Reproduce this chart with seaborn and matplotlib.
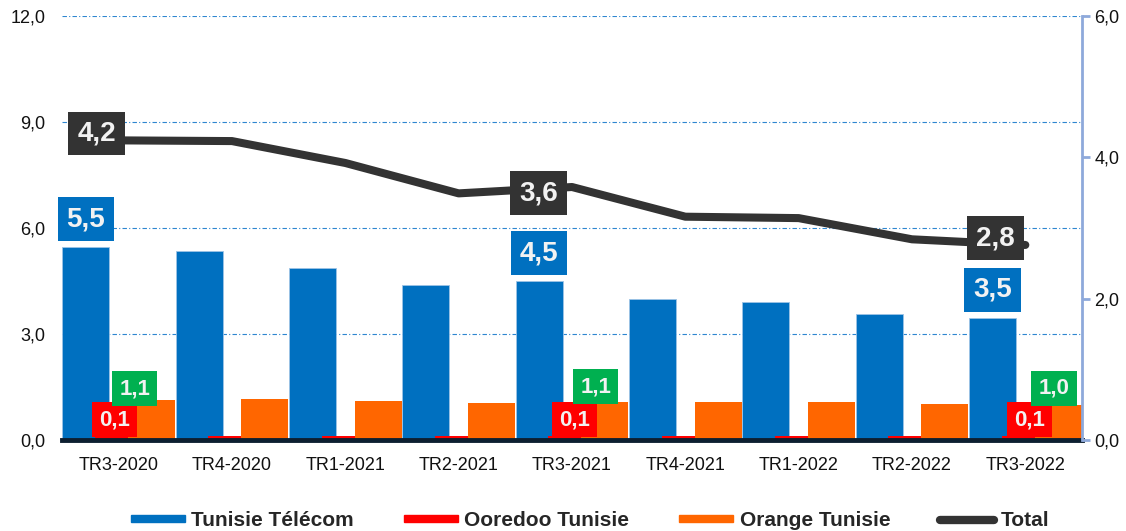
import numpy as np
import pandas as pd
import matplotlib
matplotlib.use("Agg")
import matplotlib.pyplot as plt
from matplotlib.patches import Patch
from matplotlib.lines import Line2D
import seaborn as sns

# ---------------- data ----------------
quarters = ["TR3-2020", "TR4-2020", "TR1-2021", "TR2-2021", "TR3-2021",
            "TR4-2021", "TR1-2022", "TR2-2022", "TR3-2022"]
tunisie_telecom = [5.46, 5.34, 4.87, 4.40, 4.50, 3.98, 3.91, 3.57, 3.46]
ooredoo = [0.12, 0.12, 0.11, 0.11, 0.12, 0.11, 0.12, 0.11, 0.12]
orange = [1.14, 1.17, 1.09, 1.06, 1.08, 1.08, 1.07, 1.01, 0.99]
total = [4.24, 4.23, 3.92, 3.49, 3.58, 3.16, 3.14, 2.84, 2.76]
series_names = ["Tunisie Télécom", "Ooredoo Tunisie", "Orange Tunisie", "Total"]
labelled = [0, 4, 8]
left_ticks = [0, 3, 6, 9, 12]
right_ticks = [0, 2, 4, 6]

# ---------------- style ----------------
C_BLUE, C_RED, C_ORANGE, C_DARK, C_GREEN = "#0070C0", "#FF0000", "#FF6600", "#333333", "#00B050"
sns.set_style("white")
plt.rcParams["font.family"] = ["Liberation Sans", "DejaVu Sans"]

fig = plt.figure(figsize=(11.26, 5.31), dpi=100)
ax = fig.add_axes([62 / 1126, 91 / 531, 1020 / 1126, 424 / 531])
ax2 = ax.twinx()

idx = np.arange(len(quarters))
offset, bw = 0.29, 0.415

df = pd.DataFrame({"q": idx, "tt": tunisie_telecom, "oo": ooredoo, "or": orange, "tot": total})

sns.barplot(x=df["q"] - offset, y=df["tt"], native_scale=True, width=bw, color=C_BLUE,
            saturation=1, errorbar=None, ax=ax, edgecolor="#9DC3E6", linewidth=0.6, zorder=2)
sns.barplot(x=df["q"] + 0.0, y=df["oo"], native_scale=True, width=bw, color=C_RED,
            saturation=1, errorbar=None, ax=ax, linewidth=0, zorder=3)
sns.barplot(x=df["q"] + offset, y=df["or"], native_scale=True, width=bw, color=C_ORANGE,
            saturation=1, errorbar=None, ax=ax, linewidth=0, zorder=4)

sns.lineplot(x=df["q"], y=df["tot"], ax=ax2, color=C_DARK, linewidth=5.8,
             solid_capstyle="round", solid_joinstyle="round", legend=False, zorder=5)

# axes limits / ticks
ax.set_xlim(-0.5, len(quarters) - 0.5)
ax.set_ylim(0, 12)
ax2.set_ylim(0, 6)
ax.set_xlabel("")
ax.set_ylabel("")
ax2.set_xlabel("")
ax2.set_ylabel("")

fmt = lambda v: f"{v:.1f}".replace(".", ",")
ax.set_yticks(left_ticks)
ax.set_yticklabels([fmt(v) for v in left_ticks], fontsize=13)
ax.tick_params(axis="y", length=0, pad=12, labelcolor="#111111")
ax2.set_yticks(right_ticks)
ax2.set_yticklabels([fmt(v) for v in right_ticks], fontsize=13)
ax2.tick_params(axis="y", length=6, width=2, color="#8EA9DB", pad=3, labelcolor="#111111")

ax.set_xticks(idx)
ax.set_xticklabels(quarters, fontsize=13)
ax.set_xticks(np.arange(-0.5, len(quarters)), minor=True)
ax.tick_params(axis="x", which="major", length=0, pad=12, labelcolor="#111111")
ax.tick_params(axis="x", which="minor", length=5, width=2.5, color="#0D1F30")

ax.grid(axis="y", color="#2E86D0", linestyle=(0, (4, 2, 1, 2)), linewidth=0.8)
ax.grid(axis="x", visible=False)
ax.set_axisbelow(True)

for s in ["left", "top", "right"]:
    ax.spines[s].set_visible(False)
ax.spines["bottom"].set_color("#0D1F30")
ax.spines["bottom"].set_linewidth(3.5)
ax.spines["bottom"].set_zorder(6)
for s in ["left", "top", "bottom"]:
    ax2.spines[s].set_visible(False)
ax2.spines["right"].set_color("#8EA9DB")
ax2.spines["right"].set_linewidth(2)

# ---------------- data labels ----------------
def box_label(axis, x, y, text, fc, dx, dy, size, pad):
    axis.annotate(text, xy=(x, y), xytext=(dx, dy), textcoords="offset points",
                  ha="center", va="center", fontsize=size, fontweight="bold", color="#F2F2F2",
                  bbox=dict(boxstyle=f"square,pad={pad}", fc=fc, ec="none"), zorder=10,
                  annotation_clip=False)

green_off = [(-12, 8), (-6.5, 11), (-3, 12)]
red_off = [(-3, 11.5), (1.5, 11.5), (3, 11.5)]
tot_off = [(-16, 5), (-24, -4.5), (-21.5, 5)]
for k, i in enumerate(labelled):
    box_label(ax, i - offset, tunisie_telecom[i], fmt(tunisie_telecom[i]), C_BLUE, 0, 20, 20, 0.32)
    box_label(ax, i, ooredoo[i], fmt(ooredoo[i]), C_RED, red_off[k][0], red_off[k][1], 16, 0.32)
    box_label(ax, i + offset, orange[i], fmt(orange[i]), C_GREEN, green_off[k][0], green_off[k][1], 16, 0.32)
    box_label(ax2, i, total[i], fmt(total[i]), C_DARK, tot_off[k][0], tot_off[k][1], 20, 0.32)

# ---------------- legend ----------------
handles = [Patch(color=C_BLUE), Patch(color=C_RED), Patch(color=C_ORANGE),
           Line2D([0], [0], color=C_DARK, linewidth=6, solid_capstyle="round")]
fig.legend(handles, series_names, loc="center", bbox_to_anchor=(0.524, 0.02), ncol=4,
           frameon=False, prop={"weight": "bold", "size": 15}, handlelength=2.6,
           handleheight=0.15, handletextpad=0.3, columnspacing=2.4)

fig.savefig("out.png", dpi=100)
